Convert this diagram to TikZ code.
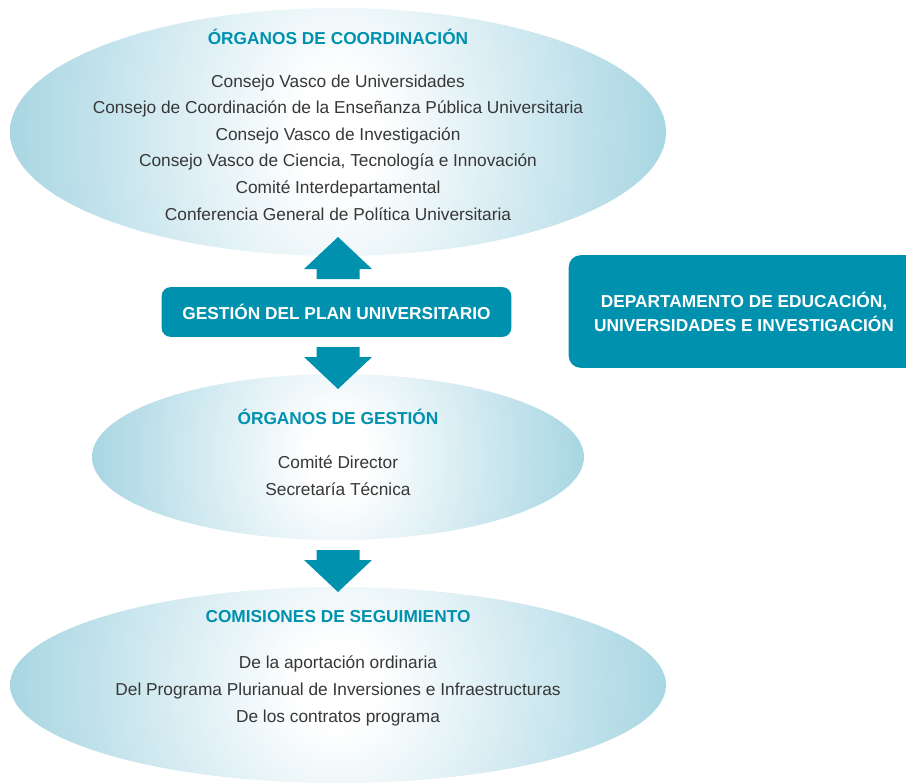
\documentclass[tikz,border=0pt]{standalone}
\usepackage{fontspec}
\setmainfont{Liberation Sans}
\usetikzlibrary{shapes.geometric}
\definecolor{azul}{RGB}{0,145,175}
\definecolor{celeste}{RGB}{168,214,227}
\definecolor{texto}{RGB}{55,55,55}
\pgfdeclareradialshading{ovalo}{\pgfpointorigin}{color(0bp)=(white); color(3bp)=(white); color(25bp)=(celeste); color(50bp)=(celeste)}
\begin{document}
\begin{tikzpicture}[x=1bp, y=-1bp, line join=round,
    elipse/.style={ellipse, inner sep=0pt},
    titulo/.style={text=azul, font=\fontsize{17.3bp}{20bp}\selectfont\bfseries},
    lista/.style={text=texto, align=center, font=\fontsize{17.3bp}{26.6bp}\selectfont},
    caja/.style={fill=azul, text=white, rounded corners=9bp, align=center,
        font=\fontsize{17.3bp}{24bp}\selectfont\bfseries}]
	\clip (0,0) rectangle (906,783);
	
	% ovalos
	\node[elipse, minimum width=656, minimum height=248] (coord) at (338,132) {};
	\node[elipse, minimum width=492, minimum height=166] (gest) at (338,457) {};
	\node[elipse, minimum width=656, minimum height=196] (segui) at (338,685) {};
	\foreach \n/\rx/\ry in {coord/328/124, gest/246/83, segui/328/98} {
		\begin{scope}
			\clip (\n.center) ellipse [x radius=\rx, y radius=\ry];
			\shade[shading=ovalo] ([shift={(-\rx,{-3.5*\ry})}]\n.center) rectangle ([shift={(\rx,{3.5*\ry})}]\n.center);
		\end{scope}
	}
	
	\node[titulo] (tcoord) at (338,37) {ÓRGANOS DE COORDINACIÓN};
	\node[lista] (lcoord) at (338,147.5) {Consejo Vasco de Universidades\\
		Consejo de Coordinación de la Enseñanza Pública Universitaria\\
		Consejo Vasco de Investigación\\
		Consejo Vasco de Ciencia, Tecnología e Innovación\\
		Comité Interdepartamental\\
		Conferencia General de Política Universitaria};
	\node[titulo] (tgest) at (338,417) {ÓRGANOS DE GESTIÓN};
	\node[lista] (lgest) at (338,476) {Comité Director\\Secretaría Técnica};
	\node[titulo] (tsegui) at (338,617) {COMISIONES DE SEGUIMIENTO};
	\node[lista] (lsegui) at (338,691) {De la aportación ordinaria\\
		Del Programa Plurianual de Inversiones e Infraestructuras\\
		De los contratos programa};
	
	% cajas
	\node[caja, minimum width=351, minimum height=50] (plan) at (336.5,312) {GESTIÓN DEL PLAN UNIVERSITARIO};
	\node[caja, minimum width=352, minimum height=113, rounded corners=12bp] (depto) at (744,311.5)
		{DEPARTAMENTO DE EDUCACIÓN,\\UNIVERSIDADES E INVESTIGACIÓN};
	
	% flechas
	\coordinate (f1) at (338,279);
	\coordinate (f2) at (338,347);
	\coordinate (f3) at (338,550);
	\foreach \c/\r in {f1/180, f2/0, f3/0}
		\fill[azul, shift={(\c)}, rotate=\r] (-21.5,0) -- (-21.5,10) -- (-34,10) -- (0,42)
			-- (34,10) -- (21.5,10) -- (21.5,0) -- cycle;
\end{tikzpicture}
\end{document}
